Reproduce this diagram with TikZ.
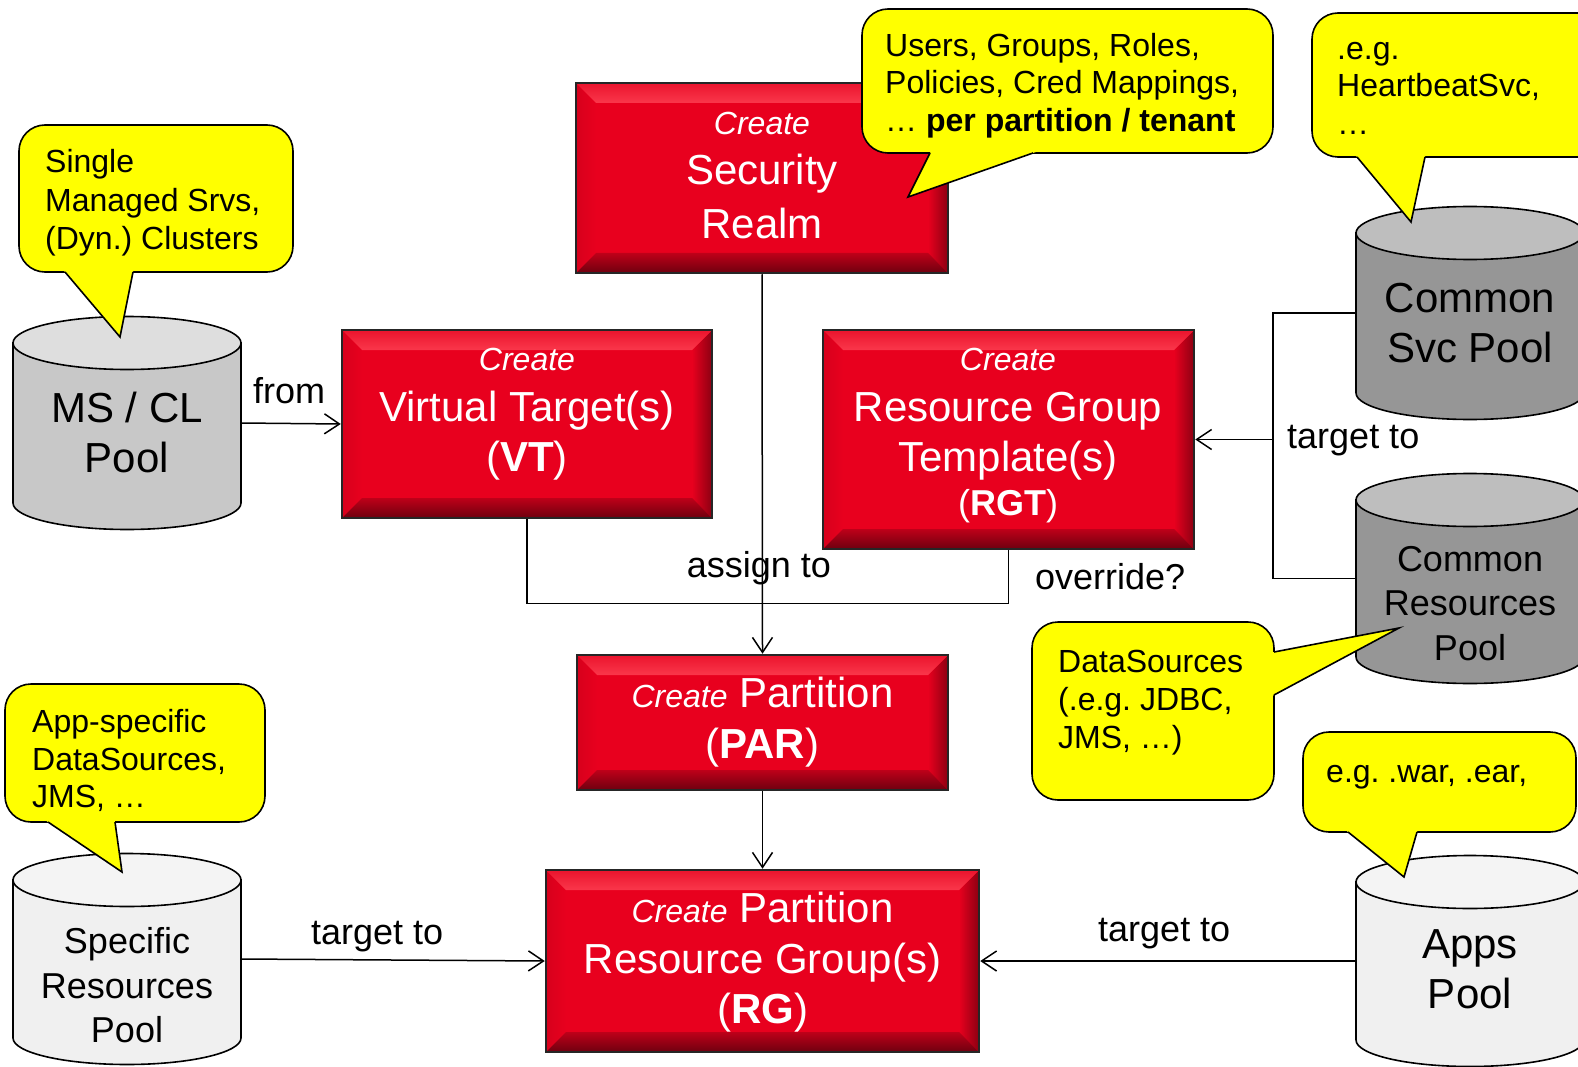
\documentclass[tikz,border=0pt]{standalone}
\usepackage{fontspec}
\setmainfont{Liberation Sans}
\usetikzlibrary{arrows.meta,calc}
\frenchspacing
\definecolor{boxred}{RGB}{232,0,30}
\definecolor{bevtop}{RGB}{250,55,75}
\definecolor{bevtopout}{RGB}{235,20,45}
\definecolor{bevbotin}{RGB}{190,0,25}
\definecolor{bevbotout}{RGB}{110,0,15}
\definecolor{bevright}{RGB}{140,0,18}
\definecolor{bevleft}{RGB}{215,0,28}
\definecolor{callyellow}{RGB}{255,255,0}
\definecolor{graymid}{RGB}{200,200,200}
\definecolor{graymidtop}{RGB}{222,222,222}
\definecolor{graydark}{RGB}{150,150,150}
\definecolor{graydarktop}{RGB}{190,190,190}
\definecolor{graylight}{RGB}{240,240,240}
\definecolor{graylighttop}{RGB}{244,244,244}
\tikzset{
  redbox/.style={draw=black!85, line width=2.5pt, fill=boxred, inner sep=0pt,
    path picture={
      \def\bv{20pt}
      \coordinate (ppnw) at (path picture bounding box.north west);
      \coordinate (ppne) at (path picture bounding box.north east);
      \coordinate (ppsw) at (path picture bounding box.south west);
      \coordinate (ppse) at (path picture bounding box.south east);
      \fill[left color=bevleft, right color=boxred] (ppnw) -- ([xshift=\bv,yshift=-\bv]ppnw) -- ([xshift=\bv,yshift=\bv]ppsw) -- (ppsw) -- cycle;
      \fill[left color=boxred, right color=bevright] (ppne) -- ([xshift=-\bv,yshift=-\bv]ppne) -- ([xshift=-\bv,yshift=\bv]ppse) -- (ppse) -- cycle;
      \fill[top color=bevtopout, bottom color=bevtop] (ppnw) -- (ppne) -- ([xshift=-\bv,yshift=-\bv]ppne) -- ([xshift=\bv,yshift=-\bv]ppnw) -- cycle;
      \fill[top color=bevbotin, bottom color=bevbotout] (ppsw) -- (ppse) -- ([xshift=-\bv,yshift=\bv]ppse) -- ([xshift=\bv,yshift=\bv]ppsw) -- cycle;
    }},
  wt/.style={text=white, inner sep=0pt, anchor=base, font=\fontsize{42}{50}\selectfont},
  wc/.style={wt, font=\fontsize{32}{38}\selectfont\itshape},
  wr/.style={wt, font=\fontsize{36}{43}\selectfont},
  lbl/.style={inner sep=0pt, anchor=base west, font=\fontsize{36}{43}\selectfont},
  dt/.style={inner sep=0pt, anchor=base, font=\fontsize{42}{50}\selectfont},
  dts/.style={dt, font=\fontsize{36}{43}\selectfont},
  bt/.style={inner sep=0pt, anchor=base west, font=\fontsize{32}{38}\selectfont},
  conn/.style={line width=1.5pt, draw=black},
  arr/.style={conn, -{Straight Barb[length=15pt,width=20pt]}},
  drumline/.style={draw=black, line width=1.6pt},
  bubble/.style={draw=black, line width=1.6pt, fill=callyellow, rounded corners=26pt},
  bubbleline/.style={draw=black, line width=1.6pt, line join=miter},
}
% cylinder: name, cx, ytop, ybot, body colour, top colour
\newcommand\drum[6]{%
  \pgfmathsetmacro\dl{#2-114}\pgfmathsetmacro\dr{#2+114}%
  \pgfmathsetmacro\dh{#4-#3}\pgfmathsetmacro\dm{(#3+#4)/2}%
  \filldraw[drumline, fill=#5] (\dl,#3) -- (\dl,#4) arc[start angle=180,end angle=0,x radius=114,y radius=26.5] -- (\dr,#3) -- cycle;
  \filldraw[drumline, fill=#6] (#2,#3) ellipse[x radius=114, y radius=26.5];
  \node[inner sep=0pt, outer sep=0pt, minimum width=228pt, minimum height=\dh pt] (#1) at (#2,\dm) {};
}
% callout: rectangle spec, base point 1, tip, base point 2
\newcommand\bubbleshape[4]{%
  \draw[bubble] #1;
  \fill[callyellow] ($#3!1.15!#2$) -- #3 -- ($#3!1.15!#4$) -- cycle;
  \draw[bubbleline] #2 -- #3 -- #4;
}
\begin{document}
\begin{tikzpicture}[x=1pt, y=-1pt]
\useasboundingbox (0,0) rectangle (1578,1067);
\clip (0,0) rectangle (1578,1067);
\fill[white] (0,0) rectangle (1578,1067);

% ---------- pools ----------
\drum{msc}{127}{343}{503}{graymid}{graymidtop}
\drum{csp}{1470}{233}{393}{graydark}{graydarktop}
\drum{crp}{1470}{500}{657}{graydark}{graydarktop}
\drum{srp}{127}{880}{1038}{graylight}{graylighttop}
\drum{app}{1470}{882}{1040}{graylight}{graylighttop}

\node[dt] (msc1) at (127,422) {MS / CL};
\node[dt] (msc2) at (127,472) {Pool};
\node[dt] (csp1) at (1470,312) {Common};
\node[dt] (csp2) at (1470,362) {Svc Pool};
\node[dts] (crp1) at (1470,571) {Common};
\node[dts] (crp2) at (1470,615) {Resources};
\node[dts] (crp3) at (1470,660) {Pool};
\node[dts] (srp1) at (127,953) {Specific};
\node[dts] (srp2) at (127,998) {Resources};
\node[dts] (srp3) at (127,1042) {Pool};
\node[dt] (app1) at (1470,958) {Apps};
\node[dt] (app2) at (1470,1008) {Pool};

% ---------- red boxes ----------
\node[redbox, minimum width=372pt, minimum height=190pt] (sr)  at (762,178) {};
\node[redbox, minimum width=370pt, minimum height=188pt] (vt)  at (527,424) {};
\node[redbox, minimum width=371pt, minimum height=219pt] (rgt) at (1008.5,439.5) {};
\node[redbox, minimum width=371pt, minimum height=135pt] (par) at (762.5,722.5) {};
\node[redbox, minimum width=433pt, minimum height=182pt] (rg)  at (762.5,961) {};

\node[wc] (sr1) at (762,135) {Create};
\node[wt] (sr2) at (762,185) {Security};
\node[wt] (sr3) at (762,239) {Realm};

\node[wc] (vt1) at (527,370) {Create};
\node[wt] (vt2) at (527,421) {Virtual Target(s)};
\node[wt] (vt3) at (527,471) {(\textbf{VT})};

\node[wc] (rgt1) at (1008,370) {Create};
\node[wt] (rgt2) at (1008,421) {Resource Group};
\node[wt] (rgt3) at (1008,471) {Template(s)};
\node[wr] (rgt4) at (1008,515) {(\textbf{RGT})};

\node[wt] (par1) at (762.5,707) {{\fontsize{32}{38}\selectfont\itshape Create} Partition};
\node[wt] (par2) at (762.5,758) {(\textbf{PAR})};

\node[wt] (rg1) at (762.5,922) {{\fontsize{32}{38}\selectfont\itshape Create} Partition};
\node[wt] (rg2) at (762.5,973) {Resource Group(s)};
\node[wt] (rg3) at (762.5,1023) {(\textbf{RG})};

% ---------- labels ----------
\node[lbl] (lfrom) at (253,403) {from};
\node[inner sep=0pt, anchor=base, font=\fontsize{36}{43}\selectfont] (lassign) at (759,577) {assign to};
\node[lbl] (lover) at (1035,589) {override?};
\node[lbl] (ltgt1) at (1287,448) {target to};
\node[lbl] (ltgt2) at (311,944) {target to};
\node[lbl] (ltgt3) at (1098,941) {target to};

% ---------- connectors ----------
\draw[arr] (msc.east) -- (vt.west);
\draw[arr] (sr.south) -- (par.north);
\draw[conn] (vt.south) -- ++(0,84) -| (rgt.south);
\draw[arr] (par.south) -- (rg.north);
\draw[conn] (csp.west) -- ++(-83,0) coordinate (jct) -- (jct |- crp.west) -- (crp.west);
\draw[arr] (jct |- rgt.east) -- (rgt.east);
\draw[arr] (srp.east) -- (rg.west);
\draw[arr] (app.west) -- (rg.east);

% ---------- callouts ----------
\bubbleshape{(19,125) rectangle (293,272)}{(65,272)}{(120,337)}{(133,272)}
\node[bt] (c1a) at (45,173) {Single};
\node[bt] (c1b) at (45,212) {Managed Srvs,};
\node[bt] (c1c) at (45,250) {(Dyn.) Clusters};

\bubbleshape{(862,9) rectangle (1273,153)}{(930,153)}{(908,197)}{(1033,153)}
\node[bt] (c2a) at (885,57) {Users, Groups, Roles,};
\node[bt] (c2b) at (885,94) {Policies, Cred Mappings,};
\node[bt] (c2c) at (885,132) {… \textbf{per partition / tenant}};

\bubbleshape{(1312,13) rectangle (1610,157)}{(1357,157)}{(1411,222)}{(1425,157)}
\node[bt] (c3a) at (1337,60) {.e.g.};
\node[bt] (c3b) at (1337,97) {HeartbeatSvc,};
\node[bt] (c3c) at (1337,135) {…};

\bubbleshape{(1032,622) rectangle (1274,800)}{(1274,652)}{(1399,628)}{(1274,695)}
\node[bt] (c4a) at (1058,672) {DataSources};
\node[bt] (c4b) at (1058,710) {(.e.g. JDBC,};
\node[bt] (c4c) at (1058,748) {JMS, …)};

\bubbleshape{(5,684) rectangle (265,822)}{(48,822)}{(122,872)}{(115,822)}
\node[bt] (c5a) at (32,732) {App-specific};
\node[bt] (c5b) at (32,770) {DataSources,};
\node[bt] (c5c) at (32,807) {JMS, …};

\bubbleshape{(1303,732) rectangle (1576,832)}{(1348,832)}{(1404,877)}{(1417,832)}
\node[bt] (c6a) at (1326,782) {e.g. .war, .ear,};
\end{tikzpicture}
\end{document}
